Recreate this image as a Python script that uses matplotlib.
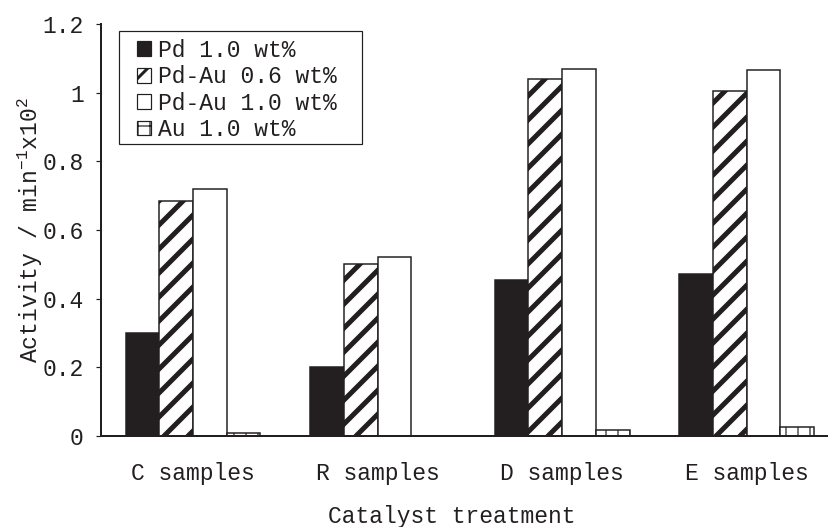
import matplotlib
matplotlib.use("Agg")
import matplotlib.pyplot as plt
from matplotlib.patches import Rectangle
import numpy as np

categories = ["C samples", "R samples", "D samples", "E samples"]
series_names = ["Pd 1.0 wt%", "Pd-Au 0.6 wt%", "Pd-Au 1.0 wt%", "Au 1.0 wt%"]
pd_10 = [0.30, 0.20, 0.455, 0.472]
pdau_06 = [0.684, 0.50, 1.04, 1.005]
pdau_10 = [0.718, 0.522, 1.07, 1.066]
au_10 = [0.010, 0.0, 0.017, 0.025]
y_ticks = [0, 0.2, 0.4, 0.6, 0.8, 1.0, 1.2]
y_tick_labels = ["0", "0.2", "0.4", "0.6", "0.8", "1", "1.2"]

FONT = "Liberation Mono"
plt.rcParams["font.family"] = [FONT, "DejaVu Sans"]
plt.rcParams["mathtext.fontset"] = "custom"
plt.rcParams["mathtext.rm"] = FONT
plt.rcParams["mathtext.it"] = FONT
plt.rcParams["mathtext.default"] = "rm"

DPI = 72
fig = plt.figure(figsize=(828 / DPI, 527 / DPI), dpi=DPI)
W, H = 828, 527
ax_left, ax_right, ax_top, ax_bottom = 100.7, 828, 24, 436
ax_w, ax_h = ax_right - ax_left, ax_bottom - ax_top
ax = fig.add_axes([ax_left / W, 1 - ax_bottom / H, ax_w / W, ax_h / H])

ink = "#231f20"
plt.rcParams["hatch.color"] = ink
x = np.arange(len(categories))
bw = 0.1826
offsets = (np.arange(4) - 1.5) * bw

styles = [
    dict(color=ink, hatch=None, hlw=1.0),
    dict(color="white", hatch="/", hlw=5.0),
    dict(color="white", hatch=None, hlw=1.0),
    dict(color="white", hatch="+", hlw=1.2),
]


def set_hatch_width(patch, width):
    if hasattr(patch, "set_hatch_linewidth"):
        patch.set_hatch_linewidth(width)
    patch._hatch_linewidth = width


all_series = [pd_10, pdau_06, pdau_10, au_10]
for vals, name, off, st in zip(all_series, series_names, offsets, styles):
    plt.rcParams["hatch.linewidth"] = st["hlw"]
    bars = ax.bar(x + off, vals, width=bw, color=st["color"], edgecolor=ink,
                  linewidth=1.5, hatch=st["hatch"], label=name, zorder=2)
    for p in bars.patches:
        set_hatch_width(p, st["hlw"])

ax.set_xlim(-0.5, 3.44)
ax.set_ylim(0, 1.2)
ax.set_yticks(y_ticks)
ax.set_yticklabels(y_tick_labels)
ax.set_xticks(x)
ax.set_xticklabels(categories)
ax.tick_params(axis="y", direction="out", length=5, width=1.2, pad=12,
               labelsize=23, colors=ink)
ax.tick_params(axis="x", length=0, pad=26, labelsize=23, colors=ink)
for s in ["top", "right"]:
    ax.spines[s].set_visible(False)
for s in ["left", "bottom"]:
    ax.spines[s].set_linewidth(2.0)
    ax.spines[s].set_color(ink)

ax.set_xlabel("Catalyst treatment", fontsize=23, color=ink)
ax.xaxis.set_label_coords((452 - ax_left) / ax_w, (ax_bottom - 505) / ax_h)
ax.set_ylabel("Activity / min$^{-1}$x10$^{2}$", fontsize=23, color=ink)
ax.yaxis.set_label_coords(-0.076, 0.5)

# legend box, framed separately so padding around the entries can differ
box_l, box_r, box_t, box_b = 119.3, 362, 31, 144
leg = ax.legend(loc="upper left",
                bbox_to_anchor=((box_l + 11 - ax_left) / ax_w,
                                (ax_bottom - box_t - 1) / ax_h),
                borderaxespad=0, fontsize=23, frameon=False,
                handlelength=0.6, handleheight=0.6, handletextpad=0.3,
                labelspacing=0.15, borderpad=0.3)
for t in leg.get_texts():
    t.set_color(ink)
for h, st in zip(leg.legend_handles, styles):
    h.set_linewidth(1.2)
    set_hatch_width(h, min(st["hlw"], 3.0))
ax.add_patch(Rectangle(((box_l - ax_left) / ax_w, (ax_bottom - box_b) / ax_h),
                       (box_r - box_l) / ax_w, (box_b - box_t) / ax_h,
                       transform=ax.transAxes, facecolor="white",
                       edgecolor=ink, linewidth=1.2, zorder=4))
leg.set_zorder(5)

fig.savefig("out.png", dpi=DPI)
